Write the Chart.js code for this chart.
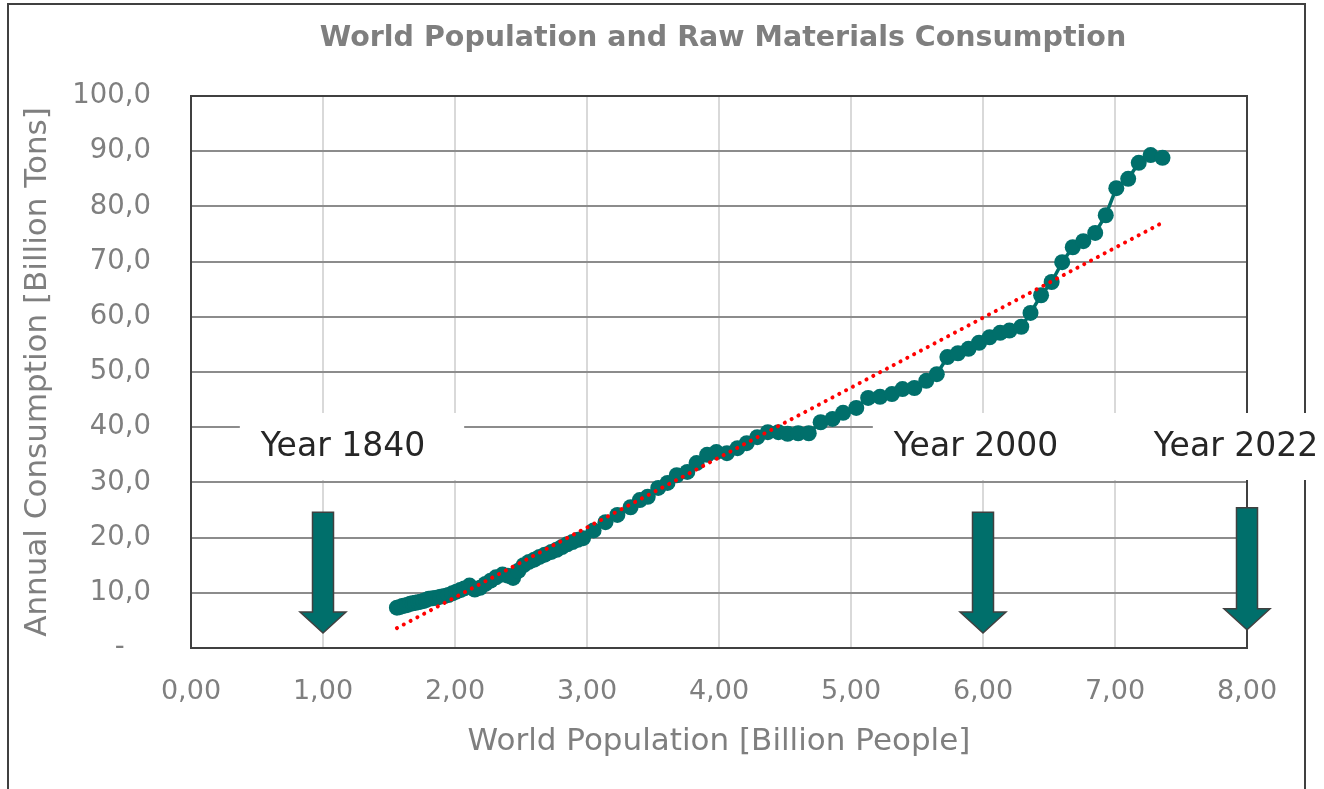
<!DOCTYPE html>
<html lang="en">
<head>
    <meta charset="UTF-8">
    <title>World Population and Raw Materials Consumption</title>
    <style>
        body { margin: 0; background: #fff; }
        #wrap { width: 1324px; height: 789px; position: relative; }
    </style>
</head>
<body>
<div id="wrap">
    <canvas id="myChart"></canvas>
</div>
<script src="https://cdn.jsdelivr.net/npm/chart.js"></script>
<script>
    // world population [billion people]
    const population = [
        1.56, 1.58, 1.60, 1.62, 1.64, 1.66, 1.68, 1.70, 1.72, 1.74, 1.76, 1.78, 1.80, 1.83, 1.86,
        1.89, 1.92, 1.95, 1.98, 2.01, 2.04, 2.07, 2.11, 2.15, 2.19, 2.23, 2.27, 2.31, 2.36, 2.40,
        2.44, 2.48, 2.52, 2.56, 2.60, 2.64, 2.68, 2.73, 2.77, 2.81, 2.85, 2.89, 2.93, 2.97, 3.05,
        3.14, 3.23, 3.33, 3.40, 3.46, 3.54, 3.61, 3.68, 3.76, 3.83, 3.91, 3.98, 4.06, 4.14, 4.21,
        4.29, 4.37, 4.45, 4.52, 4.60, 4.68, 4.77, 4.86, 4.94, 5.04, 5.13, 5.22, 5.31, 5.39, 5.48,
        5.57, 5.65, 5.73, 5.81, 5.89, 5.97, 6.05, 6.13, 6.20, 6.29, 6.36, 6.44, 6.52, 6.60, 6.68,
        6.76, 6.85, 6.93, 7.01, 7.10, 7.18, 7.27, 7.36
    ];
    // annual raw materials consumption [billion tons]
    const consumption = [
        7.3, 7.4, 7.6, 7.7, 7.8, 8.0, 8.1, 8.2, 8.3, 8.4, 8.5, 8.7, 8.9, 9.0, 9.1,
        9.3, 9.4, 9.6, 9.9, 10.2, 10.5, 10.8, 11.3, 10.6, 10.9, 11.6, 12.2, 12.8, 13.3, 13.1,
        12.7, 14.0, 15.0, 15.6, 16.0, 16.5, 16.9, 17.4, 17.8, 18.3, 18.8, 19.2, 19.6, 19.9, 21.3,
        22.8, 24.1, 25.5, 26.8, 27.4, 29.0, 29.9, 31.3, 31.9, 33.5, 35.0, 35.5, 35.3, 36.2, 37.1,
        38.2, 39.1, 39.1, 38.8, 38.9, 38.9, 40.9, 41.5, 42.6, 43.5, 45.3, 45.5, 46.0, 46.9, 47.1,
        48.4, 49.6, 52.7, 53.4, 54.2, 55.3, 56.3, 57.1, 57.5, 58.2, 60.7, 63.9, 66.3, 69.9, 72.6,
        73.7, 75.2, 78.4, 83.3, 85.0, 87.9, 89.3, 88.8
    ];
    // linear trend line end points
    const trendX = [1.56, 7.34];
    const trendY = [3.6, 76.8];

    // year markers
    const markerLabels = ['Year 1840', 'Year 2000', 'Year 2022'];
    const markerX = [1.00, 6.00, 8.00];
    const markerTop = [24.6, 24.6, 25.4];
    const markerTip = [2.7, 2.7, 3.3];

    const teal = '#006f6b';
    const frame = '#404040';
    const font = '"DejaVu Sans", Verdana, sans-serif';

    const points = population.map((p, i) => ({ x: p, y: consumption[i] }));
    const trend = trendX.map((p, i) => ({ x: p, y: trendY[i] }));

    const decorations = {
        id: 'decorations',
        beforeDatasetsDraw(chart) {
            const { ctx, chartArea: a } = chart;
            ctx.save();
            ctx.strokeStyle = frame;
            ctx.lineWidth = 2;
            ctx.strokeRect(a.left, a.top, a.right - a.left, a.bottom - a.top);
            // outer chart frame
            ctx.strokeRect(8, 4, 1297, 800);
            // title
            ctx.fillStyle = '#7f7f7f';
            ctx.font = 'bold 28.5px ' + font;
            ctx.textAlign = 'center';
            ctx.textBaseline = 'middle';
            ctx.fillText('World Population and Raw Materials Consumption', (a.left + a.right) / 2 + 4, 39);
            ctx.restore();
        },
        afterDatasetsDraw(chart) {
            const { ctx } = chart;
            const xs = chart.scales.x, ys = chart.scales.y;
            ctx.save();
            ctx.font = '33px ' + font;
            ctx.textBaseline = 'middle';
            const boxTop = 413, boxBottom = 480;
            const offsets = [20, -7, -11];
            const boxes = markerLabels.map((t, i) => {
                const w = ctx.measureText(t).width;
                const cx = xs.getPixelForValue(markerX[i]) + offsets[i];
                return { t, left: cx - w / 2, w, l: cx - w / 2 - 21, r: cx + w / 2 + 39 };
            });
            boxes.forEach((b, i) => {
                let r = b.r;
                if (boxes[i + 1] && boxes[i + 1].l - r < 80) r = boxes[i + 1].l + 2;
                ctx.fillStyle = '#fff';
                ctx.fillRect(b.l, boxTop, r - b.l, boxBottom - boxTop);
            });
            ctx.fillStyle = '#262626';
            boxes.forEach(b => ctx.fillText(b.t, b.left, 447));

            // arrows
            markerX.forEach((v, i) => {
                const cx = xs.getPixelForValue(v);
                const top = ys.getPixelForValue(markerTop[i]);
                const tip = ys.getPixelForValue(markerTip[i]);
                const sw = 10.5, hw = 23, hh = 21;
                ctx.beginPath();
                ctx.moveTo(cx - sw, top);
                ctx.lineTo(cx + sw, top);
                ctx.lineTo(cx + sw, tip - hh);
                ctx.lineTo(cx + hw, tip - hh);
                ctx.lineTo(cx, tip);
                ctx.lineTo(cx - hw, tip - hh);
                ctx.lineTo(cx - sw, tip - hh);
                ctx.closePath();
                ctx.fillStyle = teal;
                ctx.fill();
                ctx.strokeStyle = frame;
                ctx.lineWidth = 1.5;
                ctx.stroke();
            });
            ctx.restore();
        }
    };

    const ctx = document.getElementById('myChart');
    new Chart(ctx, {
        type: 'scatter',
        data: {
            datasets: [{
                label: 'Linear trend',
                data: trend,
                showLine: true,
                borderColor: '#ff0000',
                borderWidth: 4,
                borderDash: [0.1, 7.6],
                borderCapStyle: 'round',
                pointRadius: 0
            }, {
                label: 'Consumption',
                data: points,
                showLine: true,
                borderColor: teal,
                borderWidth: 3.5,
                backgroundColor: teal,
                pointRadius: 8,
                pointBorderWidth: 0,
                pointBackgroundColor: teal
            }]
        },
        options: {
            responsive: true,
            maintainAspectRatio: false,
            animation: false,
            layout: { padding: { top: 96, right: 77, left: 0, bottom: 0 } },
            plugins: {
                legend: { display: false },
                tooltip: { enabled: false }
            },
            scales: {
                x: {
                    min: 0,
                    max: 8,
                    afterFit(scale) { scale.height = 141; },
                    ticks: {
                        stepSize: 1,
                        color: '#7f7f7f',
                        font: { family: font, size: 27 },
                        padding: 28,
                        callback: v => v.toFixed(2).replace('.', ',')
                    },
                    grid: { color: '#d9d9d9', lineWidth: 2, drawTicks: false },
                    border: { color: frame, width: 2 },
                    title: {
                        display: true,
                        text: 'World Population [Billion People]',
                        color: '#7f7f7f',
                        font: { family: font, size: 31 },
                        padding: { top: 0, bottom: 28 }
                    }
                },
                y: {
                    min: 0,
                    max: 100,
                    afterFit(scale) { scale.width = 191; },
                    ticks: {
                        stepSize: 10,
                        color: '#7f7f7f',
                        font: { family: font, size: 27.5 },
                        padding: 40,
                        callback: v => v === 0 ? '-   ' : v.toFixed(1).replace('.', ',')
                    },
                    grid: { color: '#8c8c8c', lineWidth: 2, drawTicks: false },
                    border: { color: frame, width: 2 },
                    title: {
                        display: true,
                        text: 'Annual Consumption [Billion Tons]',
                        color: '#7f7f7f',
                        font: { family: font, size: 31 },
                        padding: { top: 19, bottom: 0 }
                    }
                }
            }
        },
        plugins: [decorations]
    });
</script>
</body>
</html>
